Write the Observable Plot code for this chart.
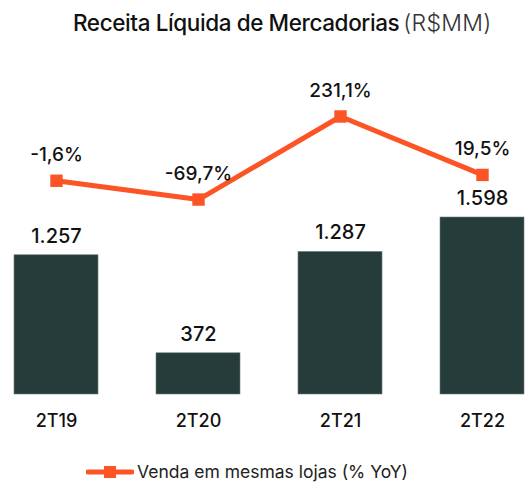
<!DOCTYPE html>
<html>
<head>
<meta charset="utf-8">
<script src="https://cdn.jsdelivr.net/npm/d3@7"></script>
<script src="https://cdn.jsdelivr.net/npm/@observablehq/plot@0.6"></script>
<style>
  body { margin: 0; background: #fff; font-family: Inter, "Noto Sans", sans-serif; }
  #wrap { width: 526px; }
  #title { height: 45px; line-height: 45px; padding-left: 73px; font-size: 22.5px; font-weight: 500; color: #111; letter-spacing: -0.4px; white-space: nowrap; }
  #title span { margin-left: 4px; font-size: 23px; font-weight: 300; color: #333; letter-spacing: 0.3px; }
  #chart { height: 400px; overflow: hidden; }
  #chart svg { display: block; }
  #legend { padding-left: 86px; padding-top: 17px; display: flex; align-items: center; font-size: 17.5px; line-height: 20px; font-weight: 400; color: #222; white-space: nowrap; }
  #legend svg { margin-right: 3px; flex: none; }
</style>
</head>
<body>
<div id="wrap">
  <div id="title">Receita Líquida de Mercadorias<span>(R$MM)</span></div>
  <div id="chart"></div>
  <div id="legend"><svg width="48" height="14"><line x1="2" x2="46" y1="7" y2="7" stroke="#fc5424" stroke-width="5" stroke-linecap="round"/><rect x="18" y="1" width="12" height="12" fill="#fc5424"/></svg><span>Venda em mesmas lojas (% YoY)</span></div>
</div>
<script>
const periods = ["2T19", "2T20", "2T21", "2T22"];
const revenue = [1257, 372, 1287, 1598];
const revenueLabels = ["1.257", "372", "1.287", "1.598"];
const yoy = [-1.6, -69.7, 231.1, 19.5];
const yoyLabels = ["-1,6%", "-69,7%", "231,1%", "19,5%"];

const bars = periods.map((p, i) => ({period: p, value: revenue[i], label: revenueLabels[i]}));
const line = periods.map((p, i) => ({period: p, yoy: yoy[i], label: yoyLabels[i]}));

// secondary axis for the YoY line mapped into the bar value space
const yoyScale = d3.scaleLinear().domain([-69.7, 231.1]).range([1760, 2510]);

const plot = Plot.plot({
  width: 526,
  height: 400,
  marginTop: 0,
  marginBottom: 51,
  marginLeft: 0,
  marginRight: 0,
  style: {fontFamily: "Inter, 'Noto Sans', sans-serif", background: "#fff"},
  x: {domain: periods, range: [-45.6, 583.6], padding: 0.41, label: null},
  y: {domain: [0, 1598], range: [349, 172], axis: null},
  marks: [
    Plot.barY(bars, {x: "period", y: "value", fill: "#253c3b", stroke: "#6d7c7b", strokeWidth: 0.6}),
    Plot.text(bars, {x: "period", y: "value", text: "label", dy: -19, fontSize: 20, fontWeight: 500, fill: "#111", lineAnchor: "middle", letterSpacing: "-0.6px"}),
    Plot.line(line, {x: "period", y: d => yoyScale(d.yoy), stroke: "#fc5424", strokeWidth: 5}),
    Plot.dot(line, {x: "period", y: d => yoyScale(d.yoy), symbol: "square", r: 7, fill: "#fc5424", stroke: "none"}),
    Plot.text(line, {x: "period", y: d => yoyScale(d.yoy), text: "label", dy: -26, fontSize: 19, fontWeight: 500, fill: "#111", lineAnchor: "middle", letterSpacing: "-0.6px"}),
    Plot.axisX({tickSize: 0, tickPadding: 20, fontSize: 18, fontWeight: 500, fill: "#111", label: null, letterSpacing: "-0.8px"})
  ]
});
document.getElementById("chart").appendChild(plot);
</script>
</body>
</html>
